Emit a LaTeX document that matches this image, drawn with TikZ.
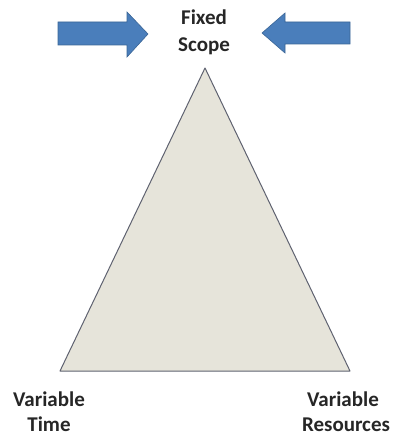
\documentclass[tikz,border=0pt]{standalone}
\usepackage{fontspec}
\setmainfont{Carlito}
\definecolor{arrowblue}{HTML}{4A7EBB}
\definecolor{arrowedge}{HTML}{3A6596}
\definecolor{trifill}{HTML}{E6E4DA}
\definecolor{triedge}{HTML}{5F6270}
\begin{document}
\begin{tikzpicture}[x=1pt,y=-1pt,
  lbl/.style={font=\bfseries\fontsize{21}{27}\selectfont, text=black!85, inner sep=0pt, anchor=base},
  bigarrow/.style={fill=arrowblue, draw=arrowedge, line width=0.6pt}]
\useasboundingbox (0,0) rectangle (395,436);
% triangle
\coordinate (apex) at (205,68);
\coordinate (bl) at (60,371);
\coordinate (br) at (350,371);
\draw[fill=trifill, draw=triedge, line width=1pt, line join=round] (apex) -- (bl) -- (br) -- cycle;
% arrows
\draw[bigarrow] (58,22) -- (127,22) -- (127,12) -- (148,34) -- (127,57) -- (127,45) -- (58,45) -- cycle;
\draw[bigarrow] (350,22) -- (285,22) -- (285,13) -- (262,33) -- (285,53) -- (285,44) -- (350,44) -- cycle;
% labels
\node[lbl] (fixed) at (204,25) {Fixed};
\node[lbl] (scope) at (204,52) {Scope};
\node[lbl] (var1) at (49,406) {Variable};
\node[lbl] (time) at (49,431) {Time};
\node[lbl] (var2) at (343,406) {Variable};
\node[lbl] (res) at (346,431) {Resources};
\end{tikzpicture}
\end{document}
